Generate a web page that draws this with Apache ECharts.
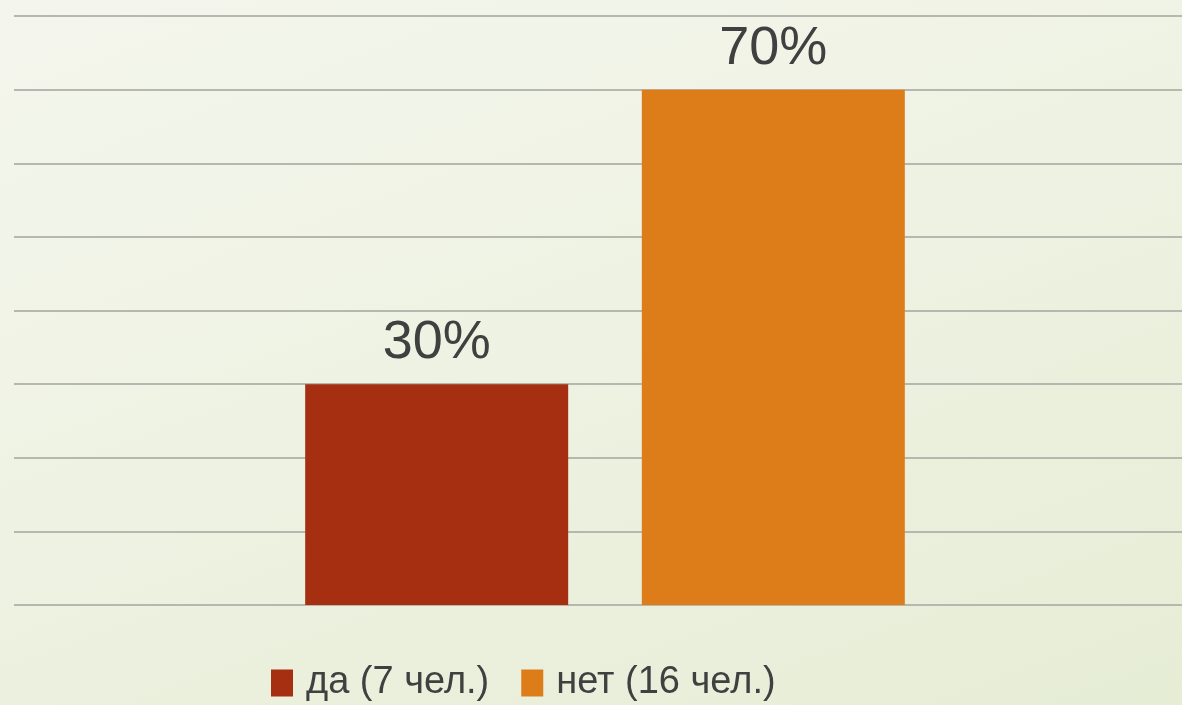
<!DOCTYPE html>
<html>
<head>
<meta charset="utf-8">
<script src="https://cdn.jsdelivr.net/npm/echarts@6/dist/echarts.min.js"></script>
<style>
html,body{margin:0;padding:0;width:1182px;height:705px;overflow:hidden;}
#c{width:1182px;height:705px;background:linear-gradient(160deg,#f4f6ed 0%,#eef2e2 50%,#e6edd5 100%);}
</style>
</head>
<body>
<div id="c"></div>
<script>
const categories = [''];
const seriesNames = ['да (7 чел.)', 'нет (16 чел.)'];
const valuesYes = [30];
const valuesNo = [70];
const colors = ['#a52f10', '#dd7d19'];

const chart = echarts.init(document.getElementById('c'), null, {renderer: 'canvas'});
const font = '"Liberation Sans", Arial, sans-serif';
const labelStyle = {
  show: true, position: 'top', distance: 14,
  formatter: p => p.value + '%',
  color: '#404040', fontSize: 54, fontFamily: font
};
chart.setOption({
  backgroundColor: 'transparent',
  animation: false,
  grid: {left: 14, top: 16, width: 1182, height: 589, containLabel: false, outerBoundsMode: 'none'},
  legend: {
    top: 659, left: 266,
    itemWidth: 22, itemHeight: 27, itemGap: 32,
    icon: 'rect',
    textStyle: {color: '#404040', fontSize: 38, fontFamily: font, padding: [0, 0, 0, 8]},
    data: seriesNames
  },
  xAxis: {
    type: 'category', data: categories,
    axisLine: {show: false}, axisTick: {show: false}, axisLabel: {show: false}
  },
  yAxis: {
    type: 'value', min: 0, max: 80, interval: 10,
    axisLine: {show: false}, axisTick: {show: false}, axisLabel: {show: false},
    splitLine: {lineStyle: {color: '#b6b7ae', width: 2}}
  },
  series: [
    {name: seriesNames[0], type: 'bar', data: valuesYes, barWidth: 263, barGap: '28%',
     itemStyle: {color: colors[0]}, label: labelStyle},
    {name: seriesNames[1], type: 'bar', data: valuesNo, barWidth: 263, barGap: '28%',
     itemStyle: {color: colors[1]}, label: labelStyle}
  ]
});
</script>
</body>
</html>
